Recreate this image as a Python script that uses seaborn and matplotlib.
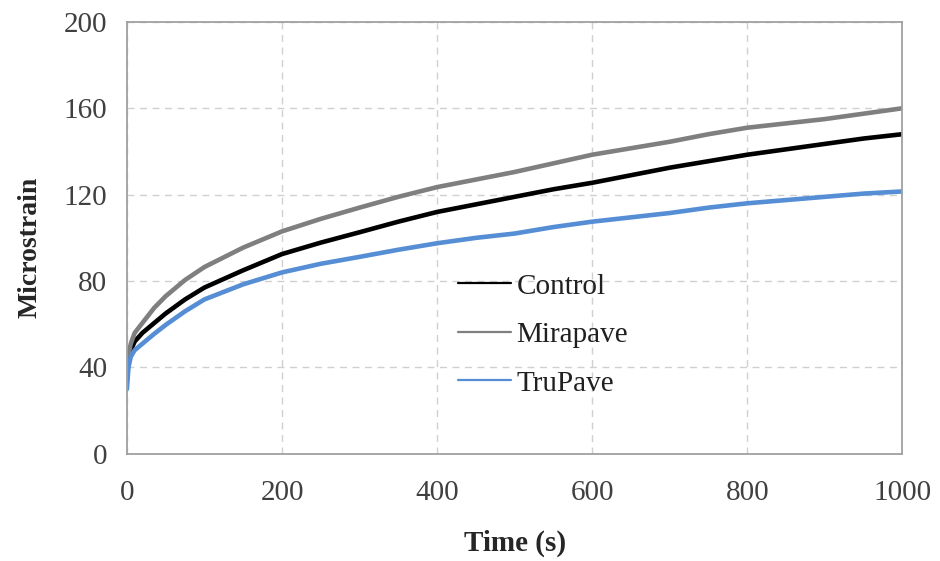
import matplotlib
matplotlib.use("Agg")
import matplotlib.pyplot as plt
import seaborn as sns
import pandas as pd

# Creep test readings (time in seconds, strain in microstrain)
time_s = [0, 2, 5, 10, 20, 35, 50, 75, 100, 150, 200, 250, 300, 350,
          400, 450, 500, 550, 600, 650, 700, 750, 800, 850, 900, 950, 1000]
control = [34, 43, 48, 52, 56, 60.5, 65, 71.5, 77, 85, 92.5, 97.8, 102.6, 107.5,
           112, 115.5, 119, 122.5, 125.5, 129, 132.5, 135.5, 138.5, 141, 143.5, 146, 148]
mirapave = [36, 46, 51, 56, 60.6, 67.5, 73, 80.5, 86.5, 95.5, 103, 108.8, 114, 119,
            123.5, 127, 130.5, 134.5, 138.5, 141.5, 144.5, 148, 151, 153, 155, 157.5, 160]
trupave = [30, 40, 45, 48, 51, 55.5, 59.7, 66, 71.5, 78.5, 84, 88, 91.2, 94.5,
           97.5, 100, 102, 105, 107.5, 109.5, 111.5, 114, 116, 117.5, 119, 120.5, 121.5]

series_names = ["Control", "Mirapave", "TruPave"]
series_colors = ["#000000", "#7f7f7f", "#558ED5"]

frames = []
for name, vals in zip(series_names, [control, mirapave, trupave]):
    frames.append(pd.DataFrame({"Time (s)": time_s, "Microstrain": vals, "Series": name}))
df = pd.concat(frames, ignore_index=True)

sns.set_style("white")
plt.rcParams["font.family"] = ["Liberation Serif", "DejaVu Serif"]

fig = plt.figure(figsize=(9.4, 5.61), dpi=100)
ax = fig.add_axes([0.135, 0.191, 0.825, 0.770])

sns.lineplot(data=df, x="Time (s)", y="Microstrain", hue="Series",
             hue_order=series_names, palette=series_colors,
             linewidth=3.3, ax=ax, legend=True)

ax.set_xlim(0, 1000)
ax.set_ylim(0, 200)
ax.set_xticks([0, 200, 400, 600, 800, 1000])
ax.set_yticks([0, 40, 80, 120, 160, 200])

ax.grid(True, color="#d0d0d0", linestyle=(0, (5, 4)), linewidth=1.0)
ax.set_axisbelow(True)
for sp in ax.spines.values():
    sp.set_color("#a0a0a0")
    sp.set_linewidth(1.3)

ax.tick_params(axis="both", direction="in", length=6, width=1.0,
               color="#a0a0a0", labelsize=21, labelcolor="#404040")
ax.tick_params(axis="x", pad=19)
ax.tick_params(axis="y", pad=14)

ax.set_xlabel("Time (s)", fontsize=21, fontweight="bold", labelpad=17)
ax.set_ylabel("Microstrain", fontsize=20, fontweight="bold", labelpad=14)
ax.yaxis.set_label_coords(-0.109, 0.477)

leg = ax.legend(loc="upper left", bbox_to_anchor=(0.475, 0.534),
                bbox_transform=fig.transFigure, frameon=False,
                fontsize=21, handlelength=1.8, handletextpad=0.2,
                labelspacing=0.76, borderaxespad=0)
for line in leg.get_lines():
    line.set_linewidth(1.6)
for t in leg.get_texts():
    t.set_color("#202020")

fig.savefig("out.png", dpi=100)
